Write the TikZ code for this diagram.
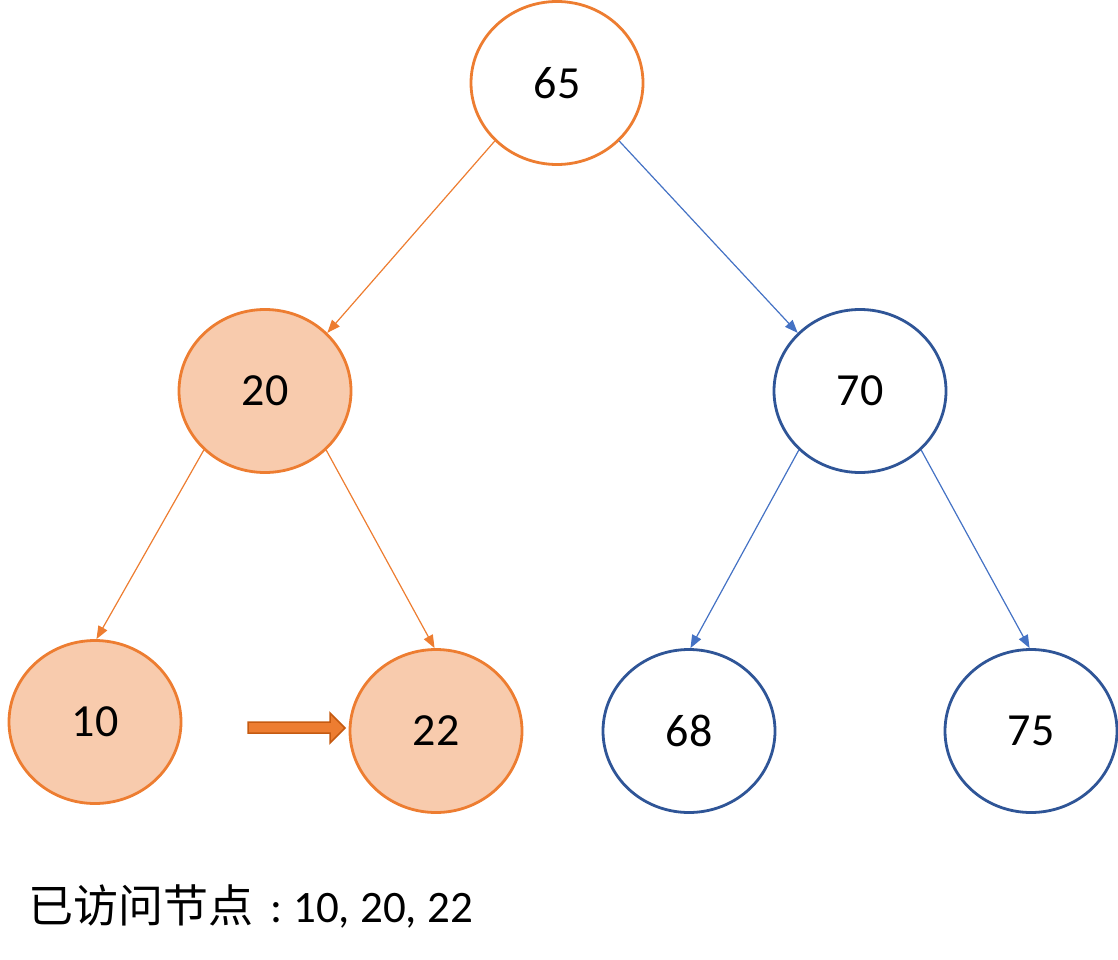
\documentclass[tikz,border=0pt]{standalone}
\usepackage{fontspec}
\setmainfont{Carlito}
\newfontfamily\cjk{Noto Sans CJK SC}
\usetikzlibrary{shapes.geometric,arrows.meta}
\definecolor{orA}{HTML}{ED7D31}
\definecolor{orFill}{HTML}{F8CBAD}
\definecolor{orDark}{HTML}{C55A11}
\definecolor{blEdge}{HTML}{4472C4}
\definecolor{blNode}{HTML}{2F5597}
\tikzset{
  tnode/.style={ellipse, minimum width=172pt, minimum height=163pt, inner sep=0pt,
    line width=2.8pt, font=\fontsize{46}{50}\selectfont},
  visited/.style={tnode, draw=orA, fill=orFill},
  rootnode/.style={tnode, draw=orA, fill=white},
  plain/.style={tnode, draw=blNode, fill=white},
  oedge/.style={draw=orA, line width=1.2pt, -{Triangle[length=13pt,width=10pt]}},
  bedge/.style={draw=blEdge, line width=1.2pt, -{Triangle[length=13pt,width=10pt]}},
  bigarrow/.style={fill=orA, draw=orDark, line width=1.5pt, line join=miter}
}
\begin{document}
\begin{tikzpicture}[x=1pt,y=-1pt]
\useasboundingbox (0,0) rectangle (1118,960);
\node[rootnode] (n65) at (557,83) {65};
\node[visited] (n20) at (265,391) {20};
\node[plain] (n70) at (860,391) {70};
\node[visited] (n10) at (95,722) {10};
\node[visited] (n22) at (436,731) {22};
\node[plain] (n68) at (689,731) {68};
\node[plain] (n75) at (1031,731) {75};
\draw[oedge] (n65.223) -- (n20.43);
\draw[bedge] (n65.317) -- (n70.137);
\draw[oedge] (n20.224) -- (n10.89);
\draw[oedge] (n20.316) -- (n22.91);
\draw[bedge] (n70.224) -- (n68.89);
\draw[bedge] (n70.316) -- (n75.91);
\draw[bigarrow] (248,722) -- (330,722) -- (330,713) -- (345,728) -- (330,743) -- (330,733) -- (248,733) -- cycle;
\node[anchor=base west, inner sep=0pt, font=\fontsize{45}{50}\selectfont] (caption) at (28,922) {{\cjk\fontsize{45}{50}\selectfont 已访问节点}\hspace{17pt}:\hspace{11pt}10, 20, 22};
\end{tikzpicture}
\end{document}
